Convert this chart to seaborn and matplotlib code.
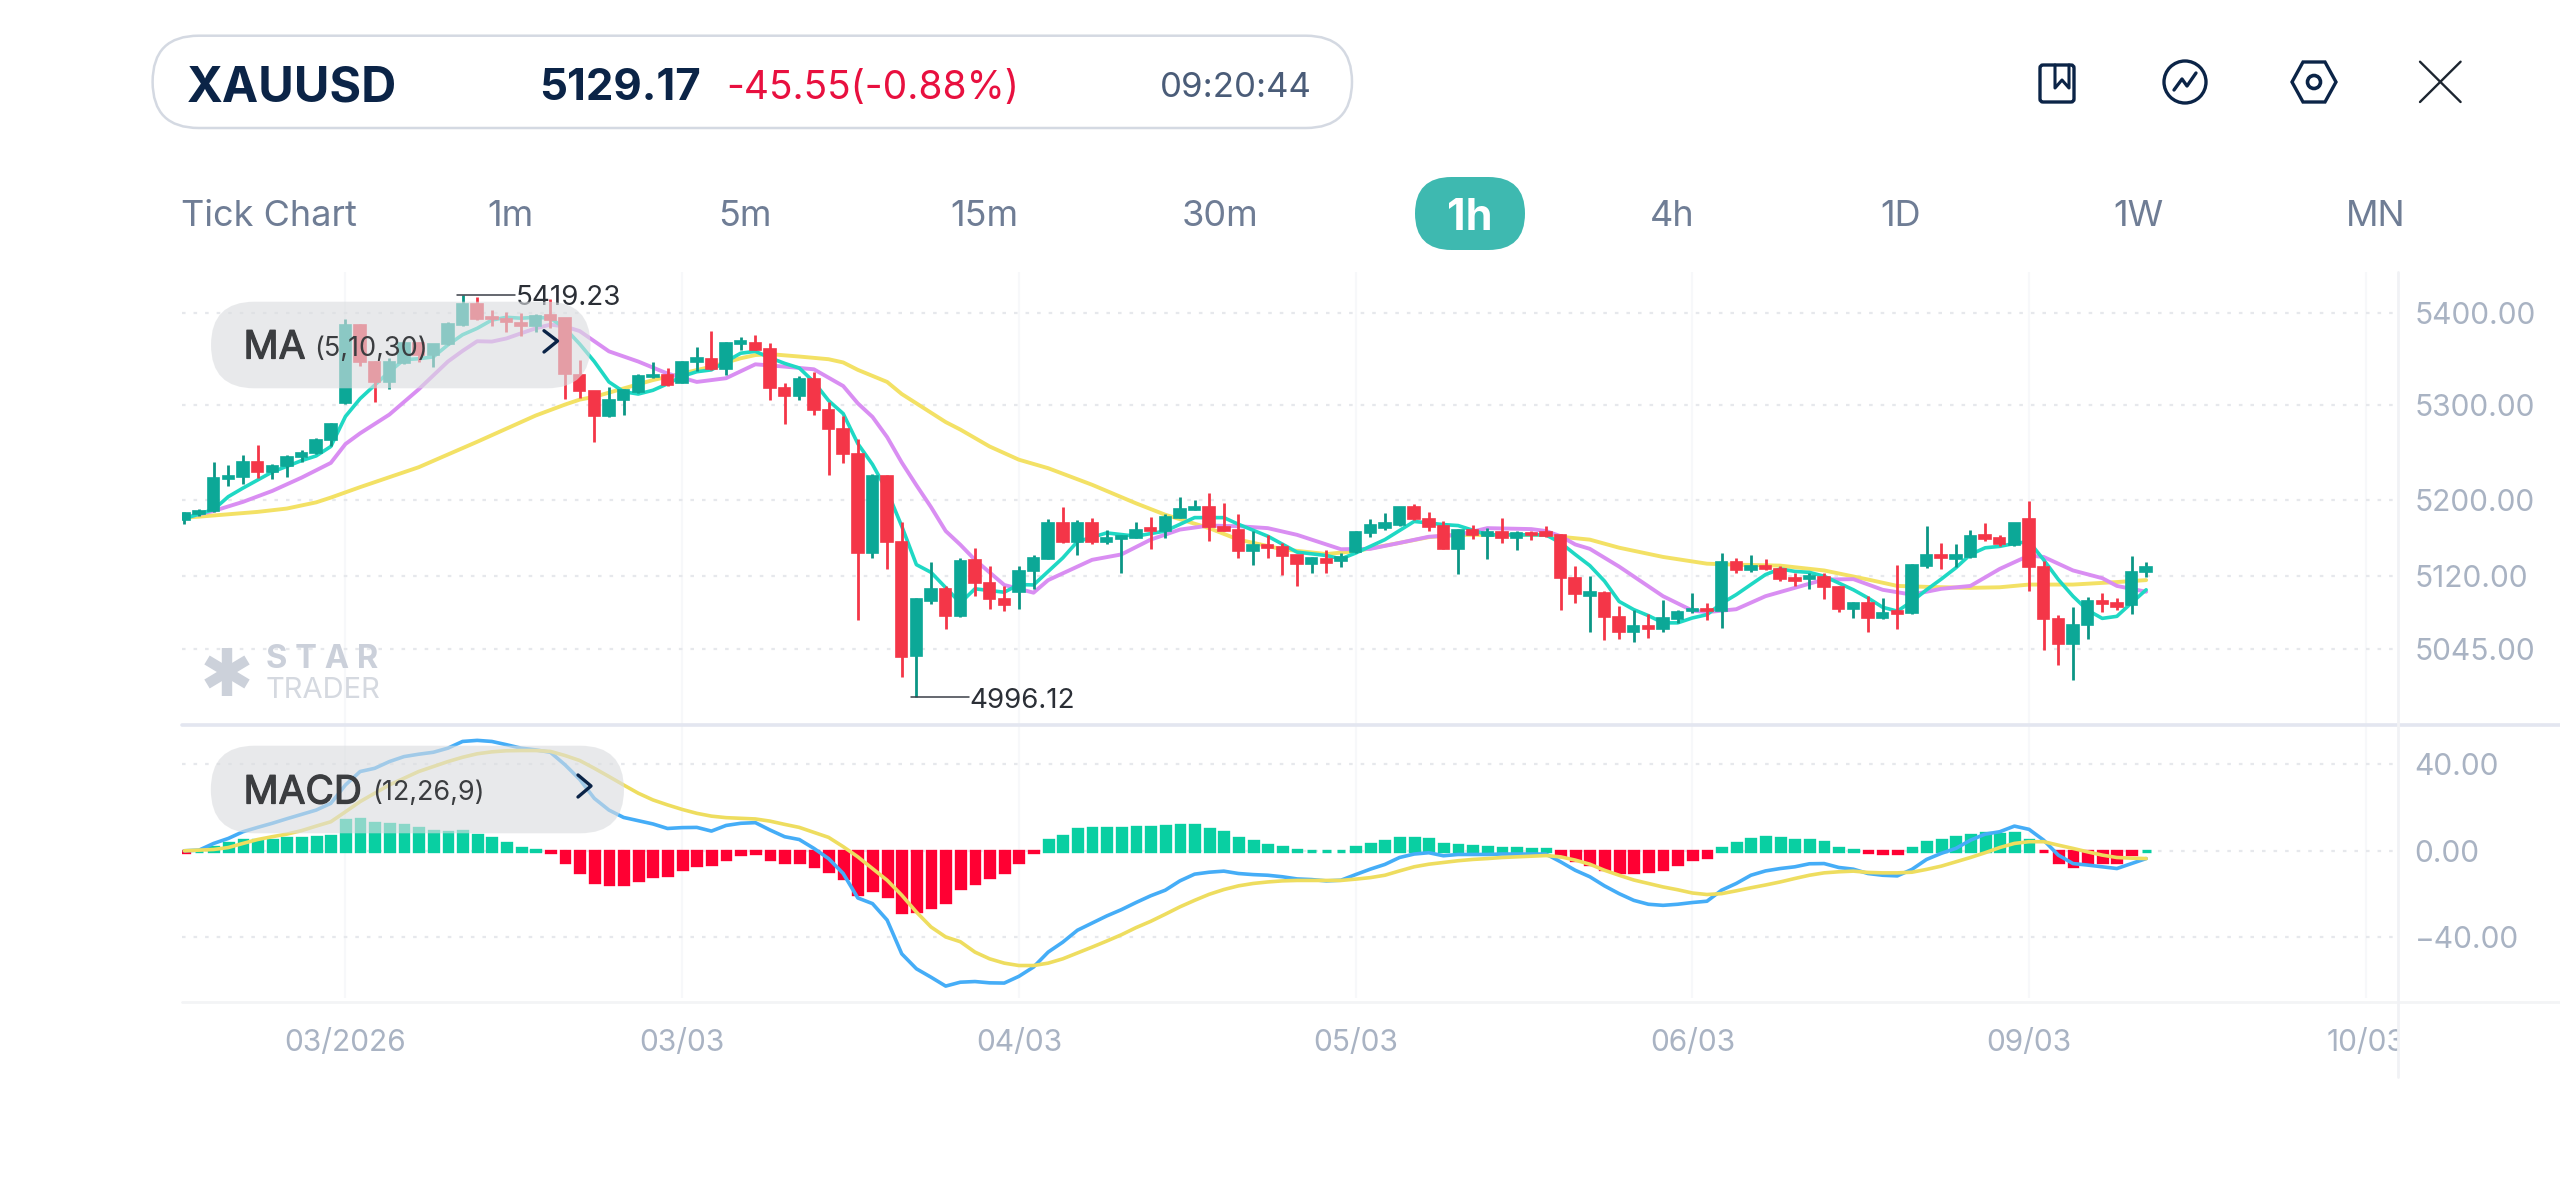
import matplotlib
matplotlib.use('Agg')
import matplotlib.pyplot as plt
import matplotlib.patheffects as pe
from matplotlib.patches import FancyBboxPatch, Rectangle, Circle, Polygon, Ellipse
from matplotlib.ticker import NullLocator
from matplotlib.transforms import IdentityTransform
import seaborn as sns

# hourly candles
opens = [5178,5185,5188,5222,5224,5240,5229,5235,5245,5249,
         5263,5302,5387,5347,5325,5345,5367,5354,5366,5387,
         5409,5395,5393,5389,5386,5397,5394,5332,5315,5288,
         5306,5314,5330,5332,5324,5346,5350,5339,5366,5367,
         5361,5319,5310,5328,5295,5275,5248,5144,5225,5156,
         5038,5094,5107,5079,5137,5113,5097,5104,5125,5138,
         5175,5156,5175,5156,5159,5160,5170,5167,5181,5189,
         5192,5171,5168,5146,5152,5150,5142,5133,5138,5136,
         5145,5165,5170,5173,5192,5180,5172,5148,5168,5162,
         5166,5160,5165,5166,5163,5118,5100,5103,5078,5063,
         5069,5066,5076,5084,5086,5084,5135,5126,5131,5128,
         5118,5117,5119,5109,5086,5092,5077,5084,5082,5131,
         5142,5138,5140,5163,5160,5152,5180,5130,5076,5050,
         5070,5094,5092,5090,5124]
closes = [5186,5188,5223,5225,5240,5229,5235,5245,5249,5263,
          5280,5387,5346,5325,5346,5367,5354,5366,5388,5409,
          5393,5393,5390,5386,5396,5392,5334,5315,5289,5306,
          5316,5331,5332,5322,5347,5351,5339,5367,5369,5360,
          5318,5310,5328,5295,5275,5248,5144,5225,5156,5037,
          5096,5107,5079,5136,5113,5097,5090,5125,5139,5175,
          5156,5175,5156,5160,5162,5168,5167,5182,5190,5192,
          5171,5167,5146,5152,5149,5141,5133,5139,5134,5140,
          5166,5173,5175,5192,5180,5171,5148,5168,5163,5166,
          5160,5165,5163,5162,5118,5102,5104,5078,5063,5069,
          5066,5077,5083,5086,5084,5135,5126,5131,5127,5117,
          5115,5120,5109,5086,5092,5077,5082,5081,5132,5142,
          5139,5142,5162,5159,5153,5175,5130,5076,5050,5070,
          5094,5091,5088,5124,5129.17]
highs = [5186.5,5190,5240,5236.5,5247,5258,5237.5,5247,5252.5,5265.5,
         5281,5393,5387.5,5348,5351,5368.6,5368,5366.5,5389.5,5419.23,
         5417,5403,5401,5400,5399,5415.5,5394.5,5349,5315.5,5320,
         5317,5333.5,5346.6,5340,5347.5,5362.5,5380.5,5368.6,5374,5376,
         5367.5,5323.5,5331,5336,5303,5288,5264,5227,5225.5,5176,
         5097.6,5134.5,5110,5139,5149,5131,5110,5131,5141.5,5179.6,
         5192,5178,5181,5168,5163,5176,5182,5185,5202.4,5200,
         5207,5196,5185,5167,5162.6,5154,5142.5,5140,5147,5144,
         5166.5,5180,5186,5192.6,5195.5,5187,5177,5169,5173,5170,
         5181,5167.5,5167.5,5172,5163.5,5130.5,5120,5104.5,5089,5085,
         5081,5095,5085,5103,5092.5,5143.6,5139,5142,5137.4,5130.5,
         5123,5123,5123,5109.7,5093.5,5100,5097.6,5132,5133,5172,
         5154,5153,5168,5175.4,5163,5175.6,5198.6,5136,5080,5088,
         5099,5102.5,5097.6,5141,5134.6]
lows = [5174,5182.5,5187,5214,5216,5223,5222,5223.5,5240,5248,
        5256,5301.5,5342,5303.6,5317,5344,5346,5341.5,5364.6,5386,
        5392,5386,5379.5,5375,5379.5,5383,5307,5308,5261,5287,
        5290,5313,5329,5321,5323.5,5337,5338,5333,5359.6,5359.6,
        5306,5280,5306,5290,5226,5238,5074.6,5139,5127.6,5017,
        4996.12,5091,5066,5078.5,5100,5086.6,5084,5086,5107,5138,
        5155,5142,5153,5153,5123,5160,5148.5,5160,5180.6,5188.6,
        5157,5167,5139,5132,5139,5120.8,5110,5123.5,5123.5,5129.6,
        5144.6,5160.6,5168.5,5172,5179,5167,5148,5122,5159,5138,
        5154,5147,5157.5,5161,5085,5092,5063,5054.6,5055.7,5052,
        5057,5063,5072,5082,5074.6,5066.7,5123,5124.6,5126.7,5115,
        5109.7,5107,5096.6,5083.5,5076.7,5063,5076,5065.6,5081,5129,
        5127,5130,5139,5157,5151,5151,5104.5,5044.3,5028.5,5014,
        5055,5083,5085.6,5081.5,5119.6]

# moving averages, sampled at the candles where they were read
ma5_x = [0,2,3,4,6,8,9,10,11,12,13,14,15,16,17,18,19,20,21,22,23,24,25,26,27,
         28,29,30,31,32,33,34,35,36,37,38,39,40,41,42,43,44,45,46,47,48,49,50,51,53,
         54,56,57,58,60,61,63,65,67,68,69,71,72,74,76,78,79,80,82,84,86,87,89,93,
         94,95,96,97,98,99,100,101,102,103,104,105,106,107,108,109,110,111,112,113,114,115,116,117,118,119,
         120,121,122,123,124,125,126,127,128,129,130,131,132,133,134]
ma5 = [5180,5189.5,5203,5212,5229,5241,5246,5256,5288,5307,5321.6,5336,5349,5350,5352,5365,5376,5383,5392,5395,5394,5395,5394,5383,5366,
       5347,5325,5314.5,5312,5316,5323,5331,5336,5338,5347,5356,5358,5351,5345,5340,5325,5305,5291,5259,5237,5209,5172,5132,5124,5092.5,
       5107,5103.5,5111.4,5111,5139,5156,5165,5161.6,5167,5174,5181,5181,5174,5161.6,5145,5141.5,5138,5144,5158,5177,5173.7,5172.7,5163,5163,
       5154.7,5142.6,5131,5115,5094,5085.6,5079.4,5072,5072,5077,5080.4,5092,5101,5111.4,5121.7,5127.6,5125,5124,5120,5113,5106,5097.6,5088,5084,5094,5106,
       5117,5128.7,5142.6,5149.5,5151,5154,5156,5137,5116.6,5099.4,5085,5076.6,5078.7,5092.5,5106]
ma10_x = [0,2,4,6,8,10,11,12,14,16,18,19,20,21,22,23,24,25,26,27,29,31,33,35,37,39,41,43,45,46,47,48,49,
          50,51,52,53,54,56,58,59,62,64,66,68,70,72,74,76,78,79,81,83,85,87,89,92,93,
          94,95,96,98,101,103,104,106,108,110,112,114,116,118,120,122,124,126,127,129,131,132,134]
ma10 = [5181,5188,5197.5,5209,5223,5238.6,5258.6,5270,5290,5317,5347,5358.5,5369,5368.6,5372,5377.6,5383,5387,5385,5380,5358,5347,5334,5325,5329,5344,5341.5,5338.6,5320.6,5302,5287.5,5266,5239,
        5215,5192,5167,5152.7,5137,5111,5103,5116,5137,5142.6,5158,5168.5,5172.7,5172,5170,5163,5153,5148,5148.4,5154.6,5161,5163,5170,5169,5167,
        5161.6,5153,5148.4,5130,5099.4,5084.6,5083,5086,5099.4,5108,5116.6,5117,5106,5101,5107,5110,5127.6,5141.5,5140,5126,5118,5110,5104]
ma30_x = [0,1,3,5,7,9,10,12,14,16,18,20,22,24,26,27,28,30,32,34,36,38,39,40,42,44,45,46,48,49,50,52,53,
          55,57,59,62,65,67,70,72,75,78,80,83,85,87,89,93,94,96,98,101,104,106,109,112,115,117,119,122,124,126,129,132,134]
ma30 = [5181,5182,5184.5,5187,5190.5,5197,5202,5213,5223.5,5234,5247.5,5261,5275,5289,5300.7,5306,5309,5318,5327,5334,5341.5,5350.5,5354,5355,5352.4,5349.5,5346,5338,5325,5312,5302,5282,5274,
        5256,5242,5233,5215.5,5196,5184,5170,5158,5148,5143,5146,5154.6,5160.6,5163,5163,5163,5161,5158,5149.6,5140,5133,5132,5131,5126,5116.6,5110,5109,5108,5108.6,5111.4,5111.4,5114,5116]

# MACD panel, one value per candle
macd_hist = [-0.4,0,1.9,3.4,5.2,5.2,5.2,5.7,5.7,6.2,
             6.9,14.2,14.7,13,12.5,11.9,10.7,9.3,8.8,9.3,
             7.3,5.7,3.4,1.1,0.3,-0.5,-5.4,-10,-14.4,-15.4,
             -15.4,-13.6,-11.7,-11.3,-8.5,-6.6,-5.9,-3.6,-1.7,-1.2,
             -3.6,-5.4,-5.4,-7.1,-9.4,-12.4,-19.8,-18.1,-20.8,-28.5,
             -27.9,-25.9,-23.8,-17.4,-14.8,-11.9,-9.6,-5.1,-0.5,5,
             7,9.9,10.7,10.7,10.7,11.1,11.1,11.6,12,12,
             10.2,8.5,5.7,4.5,2.9,1.7,0.3,0,0,0,
             1.7,3.1,4.5,5.7,5.7,5.4,3.1,2.6,2.2,1.7,
             1.2,1.2,0.9,0.9,-2.3,-4.3,-6.3,-8.2,-10,-10,
             -9.4,-8.2,-6.3,-4,-2.8,1.1,3.4,5.4,6.2,5.7,
             5.2,4.9,3.9,1.5,0.3,-0.5,-0.9,-1.2,1.1,3.9,
             5.2,6.2,7.4,8,7.7,8,4.9,-0.2,-5.4,-6.8,
             -5.4,-5.4,-5.1,-1.7,0]
macd_dif = [0,0.3,3.4,5.7,8.8,10.8,12.7,14.8,16.8,18.8,
            21.9,30.4,36.6,38.1,41.2,43.5,44.6,45.5,47.4,50.5,
            51,50.5,49,47.4,46.6,45.5,39.7,33,24.2,18.8,
            15.4,13.9,12.4,10.3,10.7,10.8,9.1,11.7,12.7,13,
            9.6,6.5,5.2,1.1,-3.6,-10.5,-21.8,-24.4,-32,-47.6,
            -54.5,-58.4,-62.5,-60.7,-60.4,-61,-61.1,-58,-53.7,-46.8,
            -42.2,-36.7,-33.4,-30.1,-27.2,-23.9,-20.8,-18.2,-13.9,-10.8,
            -9.9,-9.4,-10.5,-11,-11.3,-12,-13,-13.3,-13.9,-13.6,
            -11,-8.5,-6.3,-3.1,-1.5,-0.9,-2.3,-1.7,-1.7,-1.7,
            -1.5,-1.5,-1.5,-1.5,-5.1,-9,-12,-16.2,-19.8,-22.9,
            -24.7,-25.2,-24.7,-23.9,-23.3,-18.2,-15.1,-11.3,-9.3,-8.2,
            -7.4,-6,-5.9,-7.7,-8.5,-10.5,-11.3,-11.6,-8.6,-4,
            -1.2,1.1,4.9,7.7,8.8,11.4,9.9,4.9,-2,-5.9,
            -6.6,-7.4,-8.2,-5.9,-3.6]
macd_dea = [0,0.3,0.6,1.5,3.4,5.2,6.5,7.7,9.3,11.4,
            13.4,18,22.7,26.6,30.4,33.5,36.6,38.9,41.2,43.2,
            44.8,45.7,46.2,46.3,46.3,45.9,44,41.7,38.1,34.3,
            30.4,26.6,23.5,21.2,19.1,17.3,16,15.3,15,14.7,
            13.7,12.2,10.8,8.5,6.2,1.9,-2.8,-8.2,-13.6,-20.5,
            -28.3,-35.2,-39.8,-42,-46.8,-49.9,-51.9,-53,-53,-51.9,
            -49.9,-47.2,-44.5,-41.7,-38.8,-35.5,-32.6,-29.3,-25.9,-22.9,
            -20.1,-17.9,-16.2,-15.1,-14.4,-13.9,-13.7,-13.7,-13.7,-13.7,
            -13.1,-12.4,-11.3,-9.3,-7.4,-6.2,-5.4,-4.6,-4,-3.6,
            -3.1,-2.8,-2.5,-2.2,-2.8,-4.3,-6.2,-9,-11.3,-13.5,
            -15.1,-16.7,-18,-19.5,-20.2,-19.8,-18.5,-17.1,-15.8,-14.4,
            -12.8,-11.3,-10.2,-9.7,-9.4,-10,-10.2,-10.2,-9.9,-8.6,
            -7.1,-5.1,-3.1,-0.9,1.5,3.4,4.2,4.2,2.6,1.1,
            -0.5,-2,-3.1,-3.4,-3.6]

price_ticks = [5045, 5120, 5200, 5300, 5400]
price_labels = ['5045.00', '5120.00', '5200.00', '5300.00', '5400.00']
macd_ticks = [-40, 0, 40]
macd_labels = ['\u221240.00', '0.00', '40.00']
date_ticks = [11, 34, 57, 80, 103, 126, 149]
date_labels = ['03/2026', '03/03', '04/03', '05/03', '06/03', '09/03', '10/03']
tabs = ['Tick Chart', '1m', '5m', '15m', '30m', '4h', '1D', '1W', 'MN']

W, H = 2560, 1177
LEFT, RIGHT = 181.6, 2398
GREEN, RED = '#0CA897', '#F43648'
WICK_GREEN = '#0B9685'
HIST_GREEN, HIST_RED = '#09CFA2', '#FF0033'
NAVY = '#0B2447'
TICK = '#A9B3C3'
TAB = '#6F7D95'
PILL_TEXT = '#3B3D40'

sns.set_theme(style='white')
plt.rcParams['font.family'] = ['Inter', 'DejaVu Sans']

fig = plt.figure(figsize=(W / 100, H / 100), dpi=100, facecolor='white')


def panel(top, bottom):
    return fig.add_axes([LEFT / W, 1 - bottom / H, (RIGHT - LEFT) / W, (bottom - top) / H],
                        facecolor='none')


ax = panel(272, 725)
ax_macd = panel(725, 998)

ax.set_yscale('log')
ax.yaxis.set_minor_locator(NullLocator())

x_all = list(range(len(closes)))

# candles sit on top of the averages
sns.lineplot(x=ma30_x, y=ma30, ax=ax, color='#F3E165', linewidth=2.8, estimator=None, zorder=2)
sns.lineplot(x=ma10_x, y=ma10, ax=ax, color='#D98EF2', linewidth=2.8, estimator=None, zorder=2.1)
sns.lineplot(x=ma5_x, y=ma5, ax=ax, color='#1FD8C4', linewidth=2.6, estimator=None, zorder=2.2)

colors = [GREEN if c >= o else RED for o, c in zip(opens, closes)]
wick_colors = [WICK_GREEN if c >= o else RED for o, c in zip(opens, closes)]
ax.vlines(x_all, lows, highs, colors=wick_colors, linewidth=2.0, zorder=3)
ax.bar(x_all, [abs(c - o) for o, c in zip(opens, closes)],
       bottom=[min(o, c) for o, c in zip(opens, closes)],
       width=0.78, color=colors, edgecolor=colors, linewidth=1.2, zorder=3.1)

# extreme labels with their leader lines
hi_i, lo_i = highs.index(max(highs)), lows.index(min(lows))
ax.plot([hi_i - 0.4, hi_i + 3.6], [max(highs)] * 2, color='#3A3F48', lw=1.1, zorder=4)
ax.plot([lo_i - 0.4, lo_i + 3.6], [min(lows)] * 2, color='#3A3F48', lw=1.1, zorder=4)
for lx, ly, txt in ((hi_i + 3.65, max(highs), '5419.23'), (lo_i + 3.65, min(lows), '4996.12')):
    ax.annotate(txt, xy=(lx, ly), xytext=(0, -2.2), textcoords='offset points',
                color='#2B2F36', fontsize=20, va='center', ha='left', zorder=4)

# MACD histogram, then the two lines over it
pos_x = [i for i, v in zip(x_all, macd_hist) if v >= 0]
pos_y = [v for v in macd_hist if v >= 0]
neg_x = [i for i, v in zip(x_all, macd_hist) if v < 0]
neg_y = [v for v in macd_hist if v < 0]
sns.barplot(x=pos_x, y=pos_y, ax=ax_macd, native_scale=True, color=HIST_GREEN, saturation=1,
            width=0.6, linewidth=2.4, edgecolor=HIST_GREEN, errorbar=None, zorder=2)
sns.barplot(x=neg_x, y=neg_y, ax=ax_macd, native_scale=True, color=HIST_RED, saturation=1,
            width=0.6, linewidth=2.4, edgecolor=HIST_RED, errorbar=None, zorder=2)
sns.lineplot(x=x_all, y=macd_dif, ax=ax_macd, color='#45ADF7', linewidth=2.6, estimator=None, zorder=3)
sns.lineplot(x=x_all, y=macd_dea, ax=ax_macd, color='#EEDD5F', linewidth=2.6, estimator=None, zorder=3.1)

x0 = (LEFT - 184.4) / 14.64
x1 = (RIGHT - 184.4) / 14.64
ax.set_xlim(x0, x1)
ax_macd.set_xlim(x0, x1)
ax.set_ylim(4968.4, 5444.6)
ax_macd.set_ylim(-68, 58.1)

for a, ticks, labels in ((ax, price_ticks, price_labels), (ax_macd, macd_ticks, macd_labels)):
    a.set_xlabel('')
    a.set_ylabel('')
    a.yaxis.tick_right()
    a.set_yticks(ticks, labels=labels)
    a.set_xticks(date_ticks)
    a.tick_params(axis='y', length=0, pad=12, labelsize=21.5, labelcolor=TICK)
    a.set_axisbelow(True)
    a.grid(axis='y', color='#E6E8EC', linewidth=1.6, linestyle=(0, (1.6, 3.6)))
    a.grid(axis='x', color='#F7F8FA', linewidth=1.5, linestyle='-')
    for s in a.spines.values():
        s.set_visible(False)

ax.tick_params(axis='x', length=0, labelbottom=False)
ax_macd.set_xticklabels(date_labels)
ax_macd.tick_params(axis='x', length=0, pad=22.5, labelsize=21.5, labelcolor=TICK)
# the 10/03 label gets cut off by the price scale column
clip = Rectangle((0, 0), RIGHT, H, transform=IdentityTransform())
for lbl in ax_macd.get_xticklabels():
    lbl.set_clip_on(True)
    lbl.set_clip_path(clip)

# app chrome in pixel coordinates, above the plot
ui = fig.add_axes([0, 0, 1, 1], facecolor='none', zorder=10)
ui.set_xlim(0, W)
ui.set_ylim(H, 0)
ui.axis('off')


def pill(x0, y0, x1, y1, **kw):
    r = (y1 - y0) / 2
    ui.add_patch(FancyBboxPatch((x0 + r, y0 + r), x1 - x0 - 2 * r, 0,
                                boxstyle=f'round,pad={r},rounding_size={r}', **kw))


ui.plot([LEFT, W], [725, 725], color='#E3E6F0', lw=2.6)
ui.plot([LEFT, W], [1002, 1002], color='#F3F4F6', lw=2)
ui.plot([RIGHT, RIGHT], [272, 1077], color='#F1F2F5', lw=2)

# header
pill(152.6, 35.7, 1352, 128, facecolor='white', edgecolor='#D4D9E2', linewidth=1.8)
ui.text(187, 88, 'XAUUSD', color=NAVY, fontsize=35, fontweight='bold', va='center', ha='left')
ui.text(539, 88, '5129.17', color=NAVY, fontsize=31.5, fontweight='bold', va='center', ha='left')
ui.text(726, 88, '-45.55(-0.88%)', color='#E8103F', fontsize=28, va='center', ha='left')
ui.text(1160, 88, '09:20:44', color='#4A5C78', fontsize=25, va='center', ha='left')

# timeframe tabs
tab_x = [181, 510, 745, 984, 1220, 1672, 1900.7, 2138.5, 2375.5]
for name, tx in zip(tabs, tab_x):
    ui.text(tx, 217, name, color=TAB, fontsize=26, va='center',
            ha='left' if name == 'Tick Chart' else 'center')
pill(1415, 177, 1525, 250, facecolor='#3EB9B0', edgecolor='none')
ui.text(1470, 219, '1h', color='white', fontsize=31, fontweight='bold', va='center', ha='center')

# toolbar icons
ui.add_patch(FancyBboxPatch((2040, 65), 34, 37, boxstyle='round,pad=0,rounding_size=3',
                            facecolor='none', edgecolor=NAVY, lw=2.4))
ui.plot([2055, 2055, 2062, 2069, 2069], [65, 88, 80, 88, 65], color=NAVY, lw=2.2)
ui.add_patch(Circle((2185, 82), 21, facecolor='none', edgecolor=NAVY, lw=2.4))
ui.plot([2174, 2182, 2187, 2196], [90, 79, 86, 73], color=NAVY, lw=2.4)
ui.add_patch(Polygon([(2292, 82), (2303, 62), (2325, 62), (2336, 82), (2325, 102), (2303, 102)],
                     closed=True, facecolor='none', edgecolor=NAVY, lw=2.4))
ui.add_patch(Ellipse((2314, 82), 13, 13, facecolor='none', edgecolor=NAVY, lw=2.6))
ui.plot([2420, 2460.6], [61.7, 102], color='#1C2530', lw=1.7)
ui.plot([2420, 2460.6], [102, 61.7], color='#1C2530', lw=1.7)

# translucent indicator pills lie over the candles
heavier = [pe.withStroke(linewidth=0.9, foreground=PILL_TEXT)]
pill(211, 301.7, 590.5, 388.3, facecolor='#DBDDE0', edgecolor='none', alpha=0.62)
ui.text(243.5, 348, 'MA', color=PILL_TEXT, fontsize=28, va='center', ha='left', path_effects=heavier)
ui.text(314, 349, '(5,10,30)', color=PILL_TEXT, fontsize=19.5, va='center', ha='left')
ui.plot([544, 557.5, 544], [330.7, 341, 352], color=NAVY, lw=2.4)
pill(210.8, 745.7, 624, 833.3, facecolor='#DBDDE0', edgecolor='none', alpha=0.62)
ui.text(243.5, 793, 'MACD', color=PILL_TEXT, fontsize=28, va='center', ha='left', path_effects=heavier)
ui.text(372, 793, '(12,26,9)', color=PILL_TEXT, fontsize=19.5, va='center', ha='left')
ui.plot([578, 591, 578], [775, 786, 797], color=NAVY, lw=2.4)

# watermark
star = (227, 672)
for dx, dy in ((0, -24), (0, 24), (20, -12), (-20, 12), (20, 12), (-20, -12)):
    ui.plot([star[0], star[0] + dx], [star[1], star[1] + dy], color='#CCD1DA', lw=7.5,
            solid_capstyle='butt')
ui.text(266, 660, 'S T A R', color='#CBD0DA', fontsize=23.5, fontweight='bold', va='center', ha='left')
ui.text(266, 691, 'TRADER', color='#D5D9E0', fontsize=21, va='center', ha='left')

fig.savefig('out.png', dpi=100)
